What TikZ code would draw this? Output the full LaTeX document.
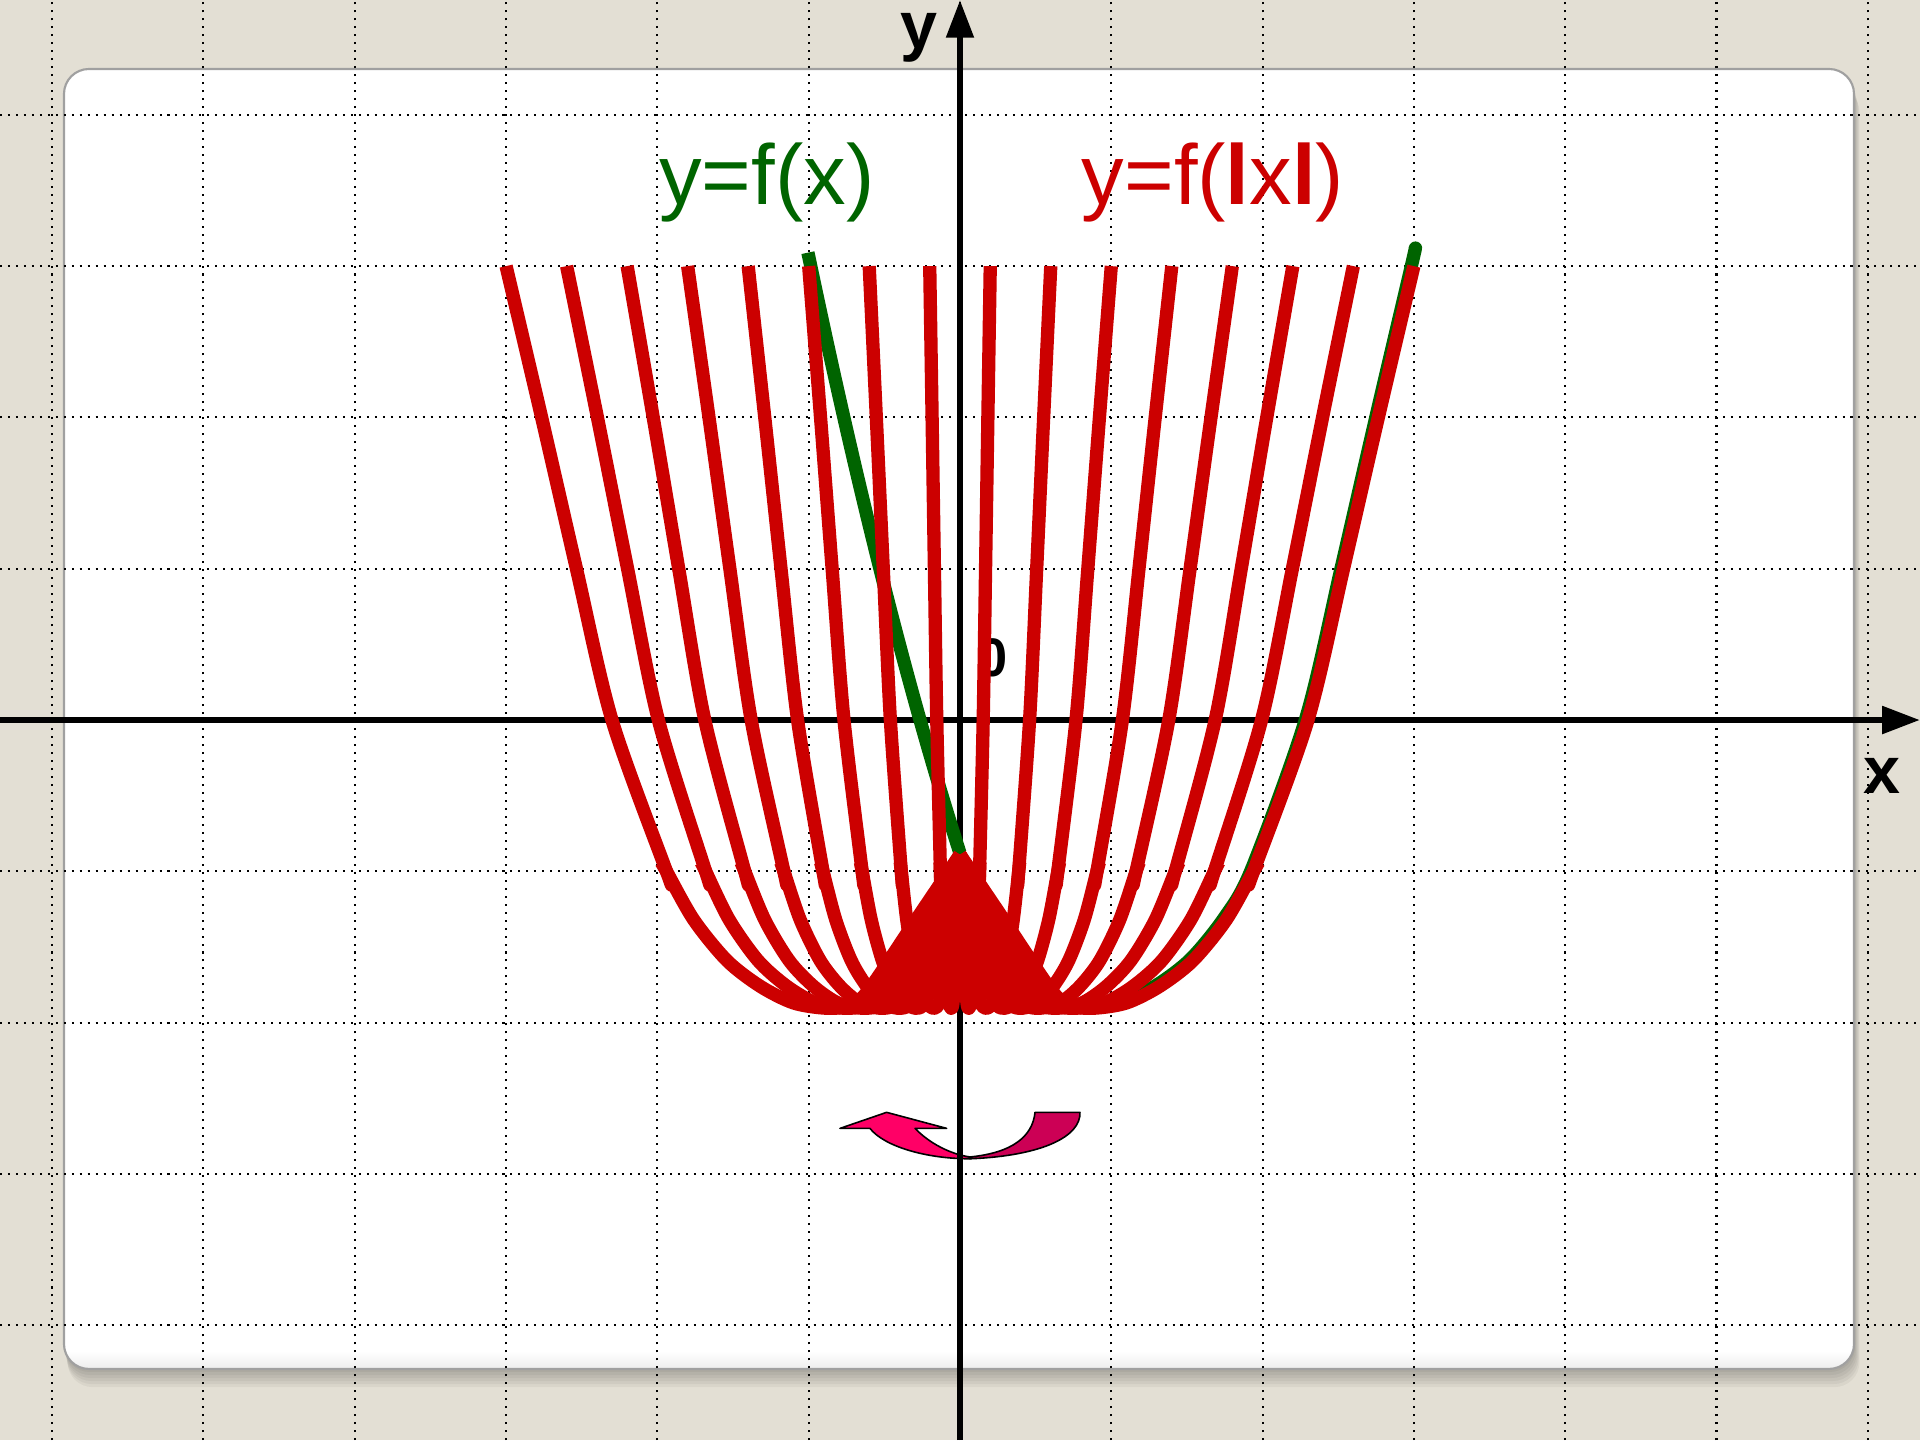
\documentclass[tikz,border=0pt]{standalone}
\usepackage{fontspec}
\setmainfont{Liberation Sans}
\usetikzlibrary{arrows.meta}
\definecolor{paper}{RGB}{227,223,212}
\definecolor{rim}{RGB}{160,160,160}
\definecolor{curvegreen}{RGB}{0,100,0}
\definecolor{curvered}{RGB}{204,0,0}
\definecolor{flipfront}{RGB}{255,0,102}
\definecolor{flipback}{RGB}{204,0,85}

\begin{document}
\begin{tikzpicture}[line join=round,
   gridline/.style={line width=0.38pt, dash pattern=on 0.38pt off 1.12pt},
   axis/.style={line width=1.2pt, -{Triangle[length=7.1pt,width=5pt]}},
   branch/.style={curvered, line width=2.5pt},
   graph/.style={curvegreen, line width=2.5pt},
   flip/.style={draw=black, line width=0.3pt},
   lbl/.style={inner sep=0pt, anchor=base, font=\fontsize{16}{19}\selectfont},
   axlbl/.style={inner sep=0pt, anchor=base, font=\fontsize{12.5}{15}\selectfont\bfseries}]
  % page, shadow and panel
  \clip (-6.345,-4.759) rectangle (6.345,4.759);
  \fill[paper] (-6.345,-4.759) rectangle (6.345,4.759);
  \foreach \s in {1,...,6}
    \fill[black, opacity=0.045, rounded corners=1.65mm]
      (-5.922+0.004*\s,-4.289-0.02*\s) rectangle (5.909+0.006*\s,4.303-0.02*\s);
  \fill[white, rounded corners=1.65mm] (-5.922,-4.289) rectangle (5.909,4.303);
  \begin{scope}
    \clip[rounded corners=1.65mm] (-5.922,-4.289) rectangle (5.909,4.303);
    \shade[top color=white, bottom color=black!7] (-5.922,-4.289) rectangle (5.909,-4.17);
  \end{scope}
  \draw[rim, line width=0.4pt, rounded corners=1.65mm] (-5.922,-4.289) rectangle (5.909,4.303);

  % dotted grid
  \foreach \gx in {-6,...,6}
    \draw[gridline] (\gx,-4.759) -- (\gx,4.759);
  \foreach \gy in {-4,...,4}
    \draw[gridline] (-6.345,\gy) -- (6.345,\gy);

  % turning arrow
  \filldraw[flip, fill=flipfront] (-0.793,-2.699) -- (-0.485,-2.593) -- (-0.088,-2.699) -- (-0.297,-2.699)
    .. controls (-0.20,-2.80) and (-0.06,-2.87) .. (0.066,-2.888) -- (0.066,-2.90)
    .. controls (-0.22,-2.90) and (-0.50,-2.82) .. (-0.595,-2.699) -- cycle;
  \filldraw[flip, fill=flipback] (0.496,-2.593) -- (0.793,-2.593)
    .. controls (0.80,-2.75) and (0.55,-2.88) .. (0.066,-2.90) -- (0.066,-2.888)
    .. controls (0.35,-2.86) and (0.48,-2.75) .. (0.496,-2.593) -- cycle;

  % axes
  \coordinate (xL) at (-6.345,0);
  \coordinate (xR) at (6.345,0);
  \coordinate (yB) at (0,-4.759);
  \coordinate (yT) at (0,4.759);
  \draw[axis] (xL) -- (xR);
  \draw[axis] (yB) -- (yT);
  \node[axlbl] (xlab) at (6.094,-0.483) {x};
  \node[axlbl] (ylab) at (-0.271,4.44) {y};
  \node[axlbl, font=\fontsize{10.2}{12}\selectfont\bfseries] (zero) at (0.218,0.29) {0};

  % y=f(x)
  \draw[graph] plot[domain=-1.005:0, samples=40] (\x,{-0.88-3.113*\x+0.832*\x*\x});
  \draw[graph, shift={(-0.014,0.012)}] plot[smooth] coordinates {(0,-0.89) (0.3,-1.335) (0.6,-1.78)
    (0.72,-1.885) (0.88,-1.905) (1.10,-1.87) (1.32,-1.76) (1.54,-1.59) (1.76,-1.32) (1.94,-1.0)
    (2.30,0) (2.535,1) (2.765,2) (3.0,3) (3.022,3.1)};

  % y=f(|x|), right half turned about the y axis
  \foreach \k in {0,...,15}{
    \pgfmathsetmacro\sq{1-2*\k/15}
    \begin{scope}[xscale=\sq]
      \draw[branch] plot[smooth] coordinates {(0,-0.89) (0.3,-1.335) (0.6,-1.78) (0.72,-1.885)
        (0.88,-1.905) (1.10,-1.87) (1.32,-1.76) (1.54,-1.59) (1.76,-1.32) (1.94,-1.0) (1.975,-0.94)};
      \draw[branch] plot[smooth] coordinates {(1.915,-1.07) (1.94,-1.0) (2.30,0) (2.535,1) (2.765,2) (3.0,3)};
    \end{scope}
  }
  \fill[curvered] (0,-0.89) -- (-0.6,-1.78) -- (0.6,-1.78) -- cycle;

  % labels
  \node[lbl, curvegreen] (lblf) at (-1.276,3.404) {y=f(x)};
  \node[lbl, curvered] (lblabs) at (1.672,3.404) {y=f(\textbf{l}x\textbf{l})};
\end{tikzpicture}
\end{document}
